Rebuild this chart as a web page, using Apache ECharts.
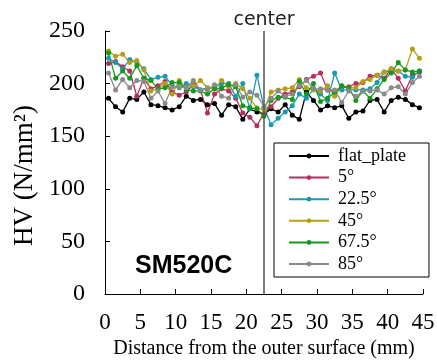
<!DOCTYPE html>
<html>
<head>
<meta charset="utf-8">
<script src="https://cdn.jsdelivr.net/npm/echarts@6/dist/echarts.min.js"></script>
<style>
    html, body { margin: 0; padding: 0; background: #fff; }
    #main { width: 437px; height: 360px; }
</style>
</head>
<body>
<div id="main"></div>
<script>
var xData = [];
for (var i = 0; i < 45; i++) {
    xData.push(i + 0.5);
}

var seriesNames = ['flat_plate', '5°', '22.5°', '45°', '67.5°', '85°'];
var seriesColors = ['#000000', '#b5305a', '#1a9ab0', '#b5a014', '#129a1c', '#8a8a8a'];

var flatPlate = [186, 178, 173, 186, 185, 192, 180, 179, 177, 175, 178, 188, 184, 185, 180, 181, 170, 180, 178, 166, 176, 173, 171, 176, 173, 180, 170, 166, 192, 184, 175, 179, 177, 179, 167, 173, 174, 184, 185, 173, 184, 187, 185, 180, 177];
var deg5 = [219, 221, 216, 212, 188, 205, 195, 198, 202, 192, 189, 192, 199, 194, 172, 190, 195, 193, 186, 172, 168, 160, 172, 178, 186, 190, 192, 197, 204, 207, 210, 194, 192, 196, 197, 200, 201, 207, 208, 205, 214, 205, 193, 208, 211];
var deg22 = [224, 220, 214, 223, 220, 214, 204, 206, 207, 198, 196, 200, 197, 194, 196, 196, 200, 200, 188, 200, 176, 208, 177, 161, 167, 173, 179, 190, 186, 195, 190, 184, 210, 194, 194, 194, 194, 195, 201, 211, 212, 212, 207, 206, 212];
var deg45 = [231, 226, 228, 220, 222, 213, 193, 195, 200, 190, 203, 196, 198, 203, 196, 195, 203, 197, 200, 195, 186, 177, 175, 192, 194, 195, 196, 204, 196, 194, 193, 198, 188, 198, 196, 196, 202, 204, 208, 211, 214, 212, 213, 233, 224];
var deg67 = [229, 205, 212, 205, 217, 205, 203, 195, 196, 201, 201, 194, 193, 193, 190, 195, 196, 199, 197, 179, 177, 176, 169, 184, 187, 187, 185, 202, 190, 200, 183, 186, 192, 198, 196, 184, 193, 186, 195, 204, 210, 220, 213, 211, 212];
var deg85 = [210, 194, 204, 196, 203, 202, 186, 193, 181, 197, 197, 196, 203, 194, 194, 199, 188, 186, 199, 187, 192, 189, 178, 186, 193, 188, 190, 198, 203, 195, 195, 194, 194, 182, 193, 188, 193, 193, 194, 190, 196, 197, 190, 201, 207];

var allValues = [flatPlate, deg5, deg22, deg45, deg67, deg85];

var series = [];
for (var s = 0; s < allValues.length; s++) {
    var pts = [];
    for (var j = 0; j < xData.length; j++) {
        pts.push([xData[j], allValues[s][j]]);
    }
    series.push({
        name: seriesNames[s],
        type: 'line',
        data: pts,
        symbol: 'circle',
        symbolSize: 5,
        showSymbol: true,
        lineStyle: { width: 1.3, color: seriesColors[s] },
        itemStyle: { color: seriesColors[s] }
    });
}

// center line
series[0].markLine = {
    silent: true,
    symbol: 'none',
    data: [{ xAxis: 22.5 }],
    lineStyle: { color: '#555', width: 1.5, type: 'solid' },
    label: {
        show: true,
        position: 'end',
        formatter: 'center',
        distance: 1,
        color: '#222',
        fontSize: 19,
        fontFamily: 'DejaVu Sans'
    }
};

var myChart = echarts.init(document.getElementById('main'));
var option = {
    animation: false,
    color: seriesColors,
    grid: { left: 105, right: 14, top: 31, bottom: 66, outerBoundsMode: 'none', containLabel: false },
    xAxis: {
        type: 'value',
        min: 0,
        max: 45,
        interval: 5,
        name: 'Distance from the outer surface (mm)',
        nameLocation: 'middle',
        nameGap: 45,
        nameTextStyle: { color: '#000', fontSize: 20, fontFamily: 'Liberation Serif' },
        axisLine: { lineStyle: { color: '#000', width: 1 } },
        axisTick: { inside: true, length: 5, lineStyle: { color: '#000' } },
        axisLabel: { color: '#000', fontSize: 23, fontFamily: 'Liberation Serif', margin: 17 },
        splitLine: { show: false }
    },
    yAxis: {
        type: 'value',
        min: 0,
        max: 250,
        interval: 50,
        name: 'HV (N/mm²)',
        nameLocation: 'middle',
        nameGap: 62,
        nameTextStyle: { color: '#000', fontSize: 27, fontFamily: 'Liberation Serif', padding: [0, 26, 0, 0] },
        axisLine: { show: true, lineStyle: { color: '#000', width: 1 } },
        axisTick: { show: true, inside: true, length: 5, lineStyle: { color: '#000' } },
        axisLabel: { color: '#000', fontSize: 24, fontFamily: 'Liberation Serif', margin: 20 },
        splitLine: { show: false }
    },
    legend: {
        orient: 'vertical',
        left: 274,
        top: 143,
        padding: [4, 23, 4, 14],
        itemGap: 3.6,
        itemWidth: 40,
        itemHeight: 6,
        borderColor: '#000',
        borderWidth: 1,
        data: seriesNames,
        textStyle: { color: '#000', fontSize: 18, fontFamily: 'Liberation Serif', padding: [0, 0, 0, 4] }
    },
    graphic: [{
        type: 'text',
        left: 135,
        top: 254,
        style: {
            text: 'SM520C',
            fill: '#000',
            font: 'bold 25px "Liberation Sans"'
        }
    }],
    series: series
};
myChart.setOption(option);
</script>
</body>
</html>
